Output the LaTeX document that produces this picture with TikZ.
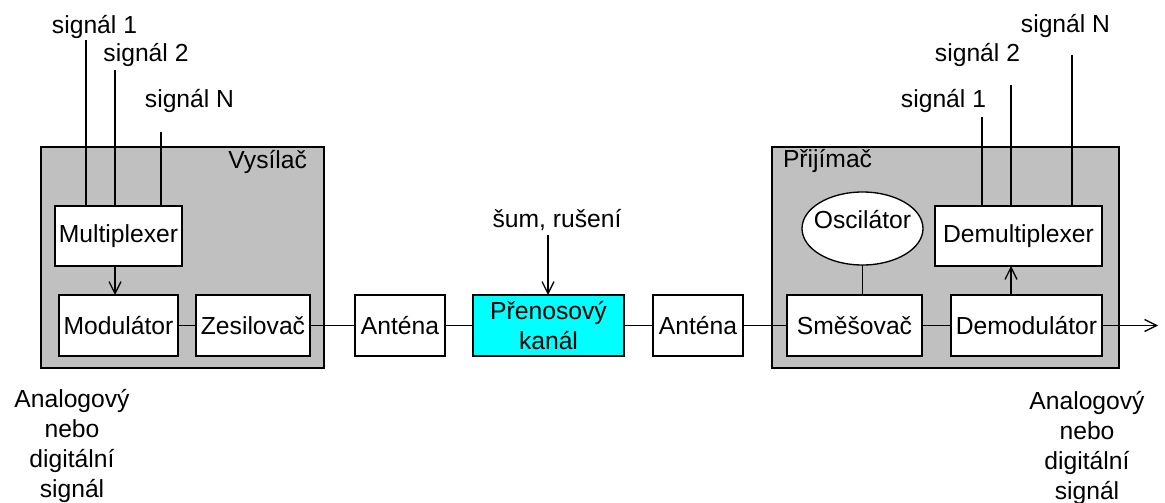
\documentclass[tikz,border=0pt]{standalone}
\usepackage{fontspec}
\setmainfont{Liberation Sans}
\usetikzlibrary{arrows.meta,shapes.geometric,calc}
\definecolor{panel}{RGB}{192,192,192}
\definecolor{chan}{RGB}{0,255,255}
\newdimen\pxu \pxu=0.75pt
\begin{document}
\begin{tikzpicture}[x=0.75pt,y=-0.75pt,
  font=\fontsize{18.5}{22.5}\selectfont,
  every node/.style={inner sep=0pt, outer sep=0pt},
  wire/.style={line width=1pt},
  arr/.style={wire, -{Straight Barb[length=9pt,width=9pt]}},
  blk/.style={draw, line width=1pt, fill=white, minimum height=61\pxu},
  grp/.style={draw, line width=1pt, fill=panel},
  lbl/.style={anchor=base}]
\useasboundingbox (0,0) rectangle (1165,503);
% panels
\node[grp, minimum width=283\pxu, minimum height=221\pxu] (vys) at (182.5,257.5) {};
\node[grp, minimum width=347\pxu, minimum height=221\pxu] (prij) at (945.5,257.5) {};
\node[anchor=base east] (vyslbl) at (307,168) {Vysílač};
\node[anchor=base west] (priplbl) at (783,167) {Přijímač};
% blocks
\node[blk, minimum width=127\pxu, minimum height=60\pxu] (mux) at (118.5,236) {Multiplexer};
\node[blk, minimum width=119\pxu] (mod) at (118.5,325.5) {Modulátor};
\node[blk, minimum width=114\pxu] (zes) at (253,325.5) {Zesilovač};
\node[blk, minimum width=90\pxu] (ant1) at (400,325.5) {Anténa};
\node[blk, fill=chan, minimum width=151\pxu, align=center] (kan) at (548.5,325.5) {Přenosový\\kanál};
\node[blk, minimum width=90\pxu] (ant2) at (698,325.5) {Anténa};
\node[blk, ellipse, minimum width=121\pxu, minimum height=73\pxu] (osc) at (862.5,228.5) {\makebox[0pt]{\smash{Oscilátor}}};
\node[blk, minimum width=167\pxu, minimum height=60\pxu] (dmux) at (1018.5,236) {Demultiplexer};
\node[blk, minimum width=135\pxu] (smes) at (854.5,325.5) {Směšovač};
\node[blk, minimum width=151\pxu] (dmod) at (1026.5,325.5) {Demodulátor};
% labels
\node[lbl] (ls1) at (94.5,34) {signál 1};
\node[lbl] (ls2) at (146,62) {signál 2};
\node[lbl] (lsn) at (189.5,108) {signál N};
\node[lbl] (rs1) at (943.5,108) {signál 1};
\node[lbl] (rs2) at (977.5,62) {signál 2};
\node[lbl] (rsn) at (1065.5,33) {signál N};
\node[lbl] (noise) at (557,227) {šum, rušení};
\node[anchor=north, align=center] (inL) at (72,389) {Analogový\\nebo\\digitální\\signál};
\node[anchor=north, align=center] (outR) at (1087,391) {Analogový\\nebo\\digitální\\signál};
% signal lines
\coordinate (a1) at (86,40);
\coordinate (a2) at (115,70);
\coordinate (aN) at (161,132);
\coordinate (b1) at (982,117);
\coordinate (b2) at (1011,85);
\coordinate (bN) at (1072,55);
\draw[wire] (a1) -- (a1 |- mux.north);
\draw[wire] (a2) -- (a2 |- mux.north);
\draw[wire] (aN) -- (aN |- mux.north);
\draw[wire] (b1) -- (b1 |- dmux.north);
\draw[wire] (b2) -- (b2 |- dmux.north);
\draw[wire] (bN) -- (bN |- dmux.north);
% arrows
\draw[arr] (mux.south -| a2) -- (mod.north -| a2);
\draw[arr] (dmod.north -| b2) -- (dmux.south -| b2);
\coordinate (n0) at (548,235);
\draw[arr] (n0) -- (n0 |- kan.north);
\draw[wire] (osc.south) -- (osc.south |- smes.north);
% chain
\draw[wire] (mod.east) -- (zes.west);
\draw[wire] (zes.east) -- (ant1.west);
\draw[wire] (ant1.east) -- (kan.west);
\draw[wire] (kan.east) -- (ant2.west);
\draw[wire] (ant2.east) -- (smes.west);
\draw[wire] (smes.east) -- (dmod.west);
\coordinate (out) at (1158,325.5);
\draw[arr] (dmod.east) -- (out);
\end{tikzpicture}
\end{document}
